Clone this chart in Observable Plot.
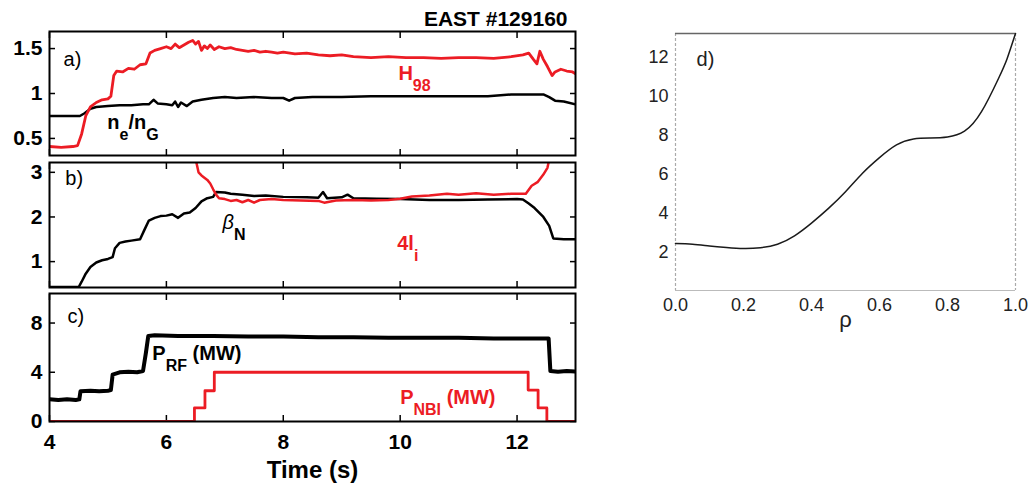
<!DOCTYPE html>
<html><head><meta charset="utf-8">
<script src="https://cdn.jsdelivr.net/npm/d3@7"></script>
<script src="https://cdn.jsdelivr.net/npm/@observablehq/plot@0.6"></script>
<style>
body{margin:0;background:#fff;}
#wrap{position:relative;width:1033px;height:488px;overflow:hidden;background:#fff;}
#wrap svg{position:absolute;overflow:visible;background:transparent;}
</style></head><body><div id="wrap"></div>
<script>
// ---------- data ----------
const h98Time  = [4.0,4.2,4.4,4.48,4.55,4.62,4.7,4.8,4.9,5.0,5.05,5.1,5.15,5.25,5.35,5.45,5.55,5.65,5.72,5.8,5.9,6.0,6.08,6.15,6.22,6.3,6.38,6.45,6.5,6.55,6.6,6.65,6.7,6.75,6.82,6.9,7.0,7.1,7.2,7.3,7.4,7.5,7.6,7.7,7.8,7.9,8.0,8.2,8.4,8.6,8.8,9.0,9.2,9.5,9.8,10.1,10.4,10.7,11.0,11.3,11.6,11.9,12.1,12.2,12.28,12.34,12.39,12.45,12.52,12.6,12.65,12.75,12.85,12.95,13.0];
const h98Value = [0.41,0.40,0.41,0.42,0.55,0.75,0.85,0.90,0.93,0.94,0.97,1.20,1.25,1.24,1.28,1.27,1.32,1.33,1.45,1.48,1.50,1.52,1.50,1.55,1.51,1.54,1.57,1.59,1.55,1.58,1.48,1.53,1.50,1.54,1.49,1.52,1.50,1.51,1.49,1.48,1.47,1.48,1.46,1.47,1.46,1.45,1.46,1.44,1.45,1.43,1.42,1.43,1.41,1.40,1.41,1.40,1.40,1.39,1.40,1.40,1.39,1.41,1.43,1.45,1.38,1.33,1.47,1.38,1.30,1.20,1.24,1.27,1.25,1.24,1.22];
const neTime  = [4.0,4.3,4.52,4.6,4.7,4.8,5.0,5.2,5.4,5.6,5.7,5.78,5.85,6.0,6.1,6.15,6.2,6.25,6.35,6.45,6.6,6.8,7.0,7.2,7.5,7.8,8.0,8.1,8.2,8.5,9.0,9.5,10.0,10.5,11.0,11.5,11.9,12.2,12.45,12.55,12.65,12.8,13.0];
const neValue = [0.75,0.75,0.75,0.78,0.83,0.85,0.86,0.87,0.87,0.88,0.88,0.93,0.89,0.88,0.87,0.91,0.85,0.90,0.86,0.91,0.93,0.95,0.96,0.95,0.96,0.95,0.95,0.92,0.95,0.96,0.96,0.97,0.97,0.97,0.97,0.97,0.99,0.99,0.99,0.96,0.92,0.91,0.88];
const betaTime  = [4.0,4.3,4.5,4.55,4.62,4.7,4.8,4.9,5.0,5.08,5.12,5.2,5.3,5.4,5.55,5.62,5.7,5.8,5.9,6.0,6.1,6.2,6.3,6.4,6.5,6.6,6.7,6.8,6.85,7.0,7.1,7.3,7.5,7.7,8.0,8.4,8.6,8.68,8.75,9.0,9.1,9.2,9.6,10.0,10.5,11.0,11.5,12.0,12.1,12.2,12.3,12.45,12.55,12.62,12.8,13.0];
const betaValue = [0.43,0.43,0.43,0.55,0.73,0.88,0.98,1.03,1.06,1.10,1.30,1.42,1.45,1.47,1.50,1.70,1.92,1.98,2.02,2.03,2.06,1.98,2.08,2.10,2.20,2.35,2.42,2.45,2.56,2.55,2.52,2.50,2.47,2.48,2.45,2.44,2.43,2.56,2.42,2.44,2.50,2.42,2.41,2.40,2.38,2.38,2.39,2.40,2.39,2.30,2.20,2.00,1.80,1.52,1.50,1.50];
const liTime  = [6.5,6.55,6.6,6.65,6.7,6.75,6.8,6.85,6.9,7.0,7.1,7.2,7.3,7.4,7.5,7.6,7.8,8.0,8.3,8.6,8.7,8.9,9.2,9.5,9.8,10.0,10.2,10.5,10.8,11.0,11.3,11.6,11.9,12.15,12.25,12.35,12.45,12.52,12.56];
const liValue = [3.30,3.00,2.93,2.88,2.83,2.75,2.62,2.50,2.42,2.40,2.36,2.38,2.33,2.38,2.32,2.38,2.40,2.38,2.37,2.36,2.32,2.37,2.38,2.37,2.38,2.41,2.46,2.48,2.52,2.50,2.53,2.50,2.52,2.52,2.70,2.78,2.95,3.10,3.35];
const prfTime  = [4.0,4.15,4.3,4.45,4.51,4.53,4.7,4.85,5.0,5.05,5.08,5.2,5.35,5.5,5.6,5.65,5.69,5.8,6.2,6.8,7.4,8.0,8.6,9.2,9.8,10.4,11.0,11.6,12.2,12.54,12.57,12.7,12.85,13.0];
const prfValue = [1.8,1.75,1.8,1.75,1.8,2.45,2.5,2.45,2.5,2.55,3.8,4.0,4.05,4.0,4.1,5.6,6.95,7.0,6.95,6.95,6.9,6.9,6.85,6.85,6.8,6.8,6.8,6.75,6.75,6.75,4.1,4.05,4.1,4.05];
const pnbiTime  = [4.0,6.48,6.66,6.82,12.19,12.36,12.51,13.0];
const pnbiValue = [0,1.1,2.5,4.0,2.55,1.1,0,0];
const rho = [0,0.05,0.1,0.15,0.2,0.25,0.3,0.35,0.4,0.45,0.5,0.55,0.6,0.65,0.7,0.75,0.8,0.85,0.9,0.95,0.975,1.0];
const qValue = [2.45,2.42,2.33,2.25,2.2,2.24,2.42,2.85,3.5,4.25,5.1,6.05,6.85,7.5,7.8,7.85,7.9,8.2,9.2,10.9,11.9,13.2];

const xDomain = [4, 13];
const xTicks = [4, 6, 8, 10, 12];
const aDomain = [0.31, 1.69], aTicks = [0.5, 1, 1.5];
const bDomain = [0.42, 3.22], bTicks = [1, 2, 3];
const cDomain = [0, 10.4], cTicks = [0, 4, 8];
const dXDomain = [0, 1], dYDomain = [0.05, 13.2];
const dXTicks = [0, 0.2, 0.4, 0.6, 0.8, 1.0], dYTicks = [2, 4, 6, 8, 10, 12];

const title = "EAST #129160";
const xLabel = "Time (s)";
const rhoLabel = "ρ";
// annotation labels (data coordinates of panel)
const panelTags = {a: {t: 4.24, v: 1.31, s: "a)"}, b: {t: 4.27, v: 2.705, s: "b)"}, c: {t: 4.31, v: 8.04, s: "c)"}};
const aRed = [{t: 9.97, v: 1.145, s: "H_{98}"}];
const aBlack = [{t: 4.99, v: 0.61, s: "n_{e}/n_{G}"}];
const bRed = [{t: 9.95, v: 1.25, s: "4l_{i}"}];
const bBlack = [{t: 6.96, v: 1.74, s: "β_{N}"}];
const cRed = [{t: 10.0, v: 1.46, s: "P_{NBI} (MW)"}];
const cBlack = [{t: 5.76, v: 4.96, s: "P_{RF} (MW)"}];
const dTag = [{x: 0.062, y: 11.56, s: "d)"}];

// ---------- helpers ----------
const RED = "#ec1c24";
const pts = (ts, vs) => ts.map((t, i) => ({t, v: vs[i]}));
const wrap = document.getElementById("wrap");

function applySubs(svg) {
  d3.select(svg).selectAll("text").each(function () {
    const s = this.textContent;
    if (!s.includes("_{")) return;
    const parts = s.split(/_\{([^}]*)\}/);
    this.textContent = "";
    parts.forEach((p, i) => {
      const ts = d3.select(this).append("tspan").text(p);
      if (i % 2 === 1) ts.attr("dy", 11).attr("font-size", 16);
      else if (i > 0) ts.attr("dy", -11);
      if (p.startsWith("β")) ts.attr("font-style", "italic").attr("font-weight", "normal");
    });
  });
}

function place(svg, left, top) {
  svg.style.left = left + "px";
  svg.style.top = top + "px";
  applySubs(svg);
  wrap.appendChild(svg);
}

const leftStyle = {fontFamily: "'Liberation Sans', Arial, sans-serif", fontSize: "21px", fontWeight: "bold", background: "transparent", overflow: "visible", color: "black"};
const plainNum = (d) => `${d}`;

function leftPanel({top, height, marginTop, marginBottom, yDomain, yTicks, marks, bottomLabels}) {
  const svg = Plot.plot({
    width: 590, height, marginLeft: 49, marginRight: 15, marginTop, marginBottom,
    x: {domain: xDomain, axis: null},
    y: {domain: yDomain, axis: null},
    style: leftStyle,
    marks: [
      Plot.axisY({ticks: yTicks, anchor: "left", tickSize: 0, tickPadding: 7, tickFormat: plainNum, label: null}),
      Plot.axisY({ticks: yTicks, anchor: "left", tickSize: -6, tickFormat: () => "", label: null, strokeWidth: 1.5}),
      Plot.axisY({ticks: yTicks, anchor: "right", tickSize: -6, tickFormat: () => "", label: null, strokeWidth: 1.5}),
      Plot.axisX({ticks: xTicks, anchor: "top", tickSize: -6, tickFormat: () => "", label: null, strokeWidth: 1.5}),
      Plot.axisX({ticks: xTicks, anchor: "bottom", tickSize: -6, tickFormat: () => "", label: null, strokeWidth: 1.5}),
      ...(bottomLabels ? [
        Plot.axisX({ticks: xTicks, anchor: "bottom", tickSize: 0, tickPadding: 13, tickFormat: plainNum, label: null}),
        Plot.text([xLabel], {frameAnchor: "bottom", dy: 56, lineAnchor: "bottom", fontSize: 24, fontWeight: "bold"})
      ] : []),
      ...marks,
      Plot.frame({stroke: "black", strokeWidth: 2})
    ]
  });
  place(svg, 0, top);
}

const labelOpts = (fill) => ({x: "t", y: "v", text: "s", fill, textAnchor: "start", lineAnchor: "bottom", fontSize: 20, fontWeight: "bold"});
const tagOpts = {x: "t", y: "v", text: "s", fill: "black", textAnchor: "start", lineAnchor: "bottom", fontSize: 20, fontWeight: "normal"};

// ---------- panel a ----------
leftPanel({
  top: 0, height: 160, marginTop: 31, marginBottom: 5, yDomain: aDomain, yTicks: aTicks,
  marks: [
    Plot.lineY(pts(neTime, neValue), {x: "t", y: "v", stroke: "black", strokeWidth: 2.5, clip: true}),
    Plot.lineY(pts(h98Time, h98Value), {x: "t", y: "v", stroke: RED, strokeWidth: 2.8, clip: true}),
    Plot.text([panelTags.a], tagOpts),
    Plot.text(aRed, labelOpts(RED)),
    Plot.text(aBlack, labelOpts("black")),
    Plot.text([title], {frameAnchor: "top-right", textAnchor: "end", lineAnchor: "bottom", dx: -8, dy: -6, fontSize: 21, fontWeight: "bold"})
  ]
});

// ---------- panel b ----------
leftPanel({
  top: 157, height: 135, marginTop: 5, marginBottom: 5, yDomain: bDomain, yTicks: bTicks,
  marks: [
    Plot.lineY(pts(betaTime, betaValue), {x: "t", y: "v", stroke: "black", strokeWidth: 2.5, clip: true}),
    Plot.lineY(pts(liTime, liValue), {x: "t", y: "v", stroke: RED, strokeWidth: 2.5, clip: true}),
    Plot.text([panelTags.b], tagOpts),
    Plot.text(bRed, labelOpts(RED)),
    Plot.text(bBlack, labelOpts("black"))
  ]
});

// ---------- panel c ----------
leftPanel({
  top: 288, height: 200, marginTop: 5, marginBottom: 67, yDomain: cDomain, yTicks: cTicks, bottomLabels: true,
  marks: [
    Plot.lineY(pts(prfTime, prfValue), {x: "t", y: "v", stroke: "black", strokeWidth: 4, clip: true}),
    Plot.lineY(pts(pnbiTime, pnbiValue), {x: "t", y: "v", stroke: RED, strokeWidth: 2.8, curve: "step-after", clip: true}),
    Plot.text([panelTags.c], tagOpts),
    Plot.text(cRed, labelOpts(RED)),
    Plot.text(cBlack, labelOpts("black"))
  ]
});

// ---------- panel d ----------
{
  const svg = Plot.plot({
    width: 413, height: 340, marginLeft: 55, marginRight: 18, marginTop: 33, marginBottom: 50,
    x: {domain: dXDomain, axis: null},
    y: {domain: dYDomain, axis: null},
    style: {fontFamily: "'Liberation Sans', Arial, sans-serif", fontSize: "18px", background: "transparent", overflow: "visible", color: "#222"},
    marks: [
      Plot.ruleX([dXDomain[0], dXDomain[1]], {stroke: "#aaa", strokeWidth: 1.2, strokeDasharray: "3,2"}),
      Plot.ruleY([dYDomain[0]], {stroke: "#bbb", strokeWidth: 1.2}),
      Plot.ruleY([dYDomain[1]], {stroke: "#666", strokeWidth: 1.6}),
      Plot.axisY({ticks: dYTicks, anchor: "left", tickSize: 0, tickPadding: 7, tickFormat: plainNum, label: null, fill: "#222"}),
      Plot.axisX({ticks: dXTicks, anchor: "bottom", tickSize: 0, tickPadding: 8, tickFormat: (d) => d.toFixed(1), label: null, fill: "#222"}),
      Plot.line(rho.map((r, i) => ({x: r, y: qValue[i]})), {x: "x", y: "y", stroke: "#1a1a1a", strokeWidth: 1.5, curve: "natural"}),
      Plot.text(dTag, {x: "x", y: "y", text: "s", textAnchor: "start", lineAnchor: "bottom", fontSize: 20, fill: "#222"}),
      Plot.text([rhoLabel], {x: () => 0.5, frameAnchor: "bottom", lineAnchor: "bottom", dy: 36, fontSize: 22, fill: "#222"})
    ]
  });
  place(svg, 620, 0);
}
</script>
</body></html>
